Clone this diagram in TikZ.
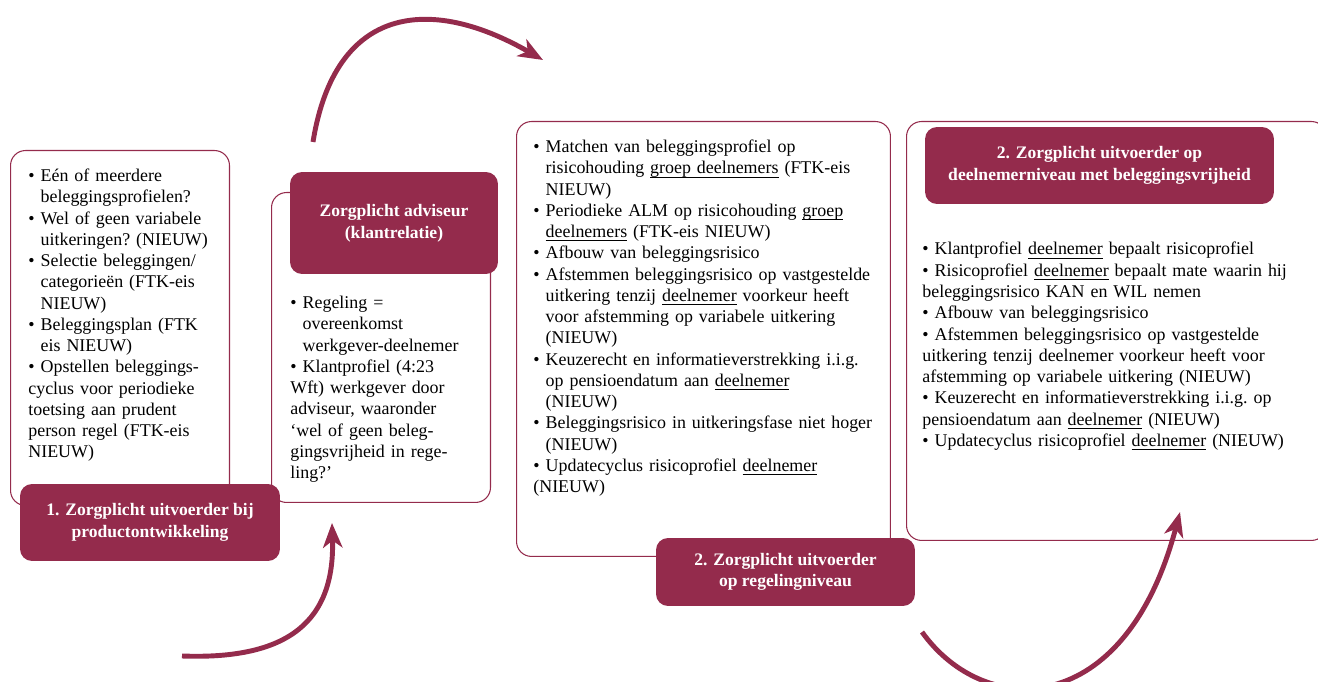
\documentclass[tikz,border=0pt]{standalone}
\usepackage{fontspec}
\setmainfont{Liberation Serif}
\usetikzlibrary{arrows.meta}
\definecolor{bordeaux}{RGB}{148,43,76}
\newsavebox{\ondbox}
\newcommand{\bul}{\par\noindent\hangindent=7pt\hangafter=1\makebox[7pt][l]{\textbullet}}
\newcommand{\ond}[1]{\sbox{\ondbox}{#1}\rlap{\rule[-2pt]{\wd\ondbox}{0.5pt}}\usebox{\ondbox}}
\tikzset{
  kader/.style={draw=bordeaux, line width=0.6pt, rounded corners=0.3cm, anchor=north west, inner sep=0pt},
  titel/.style={fill=bordeaux, text=white, rounded corners=0.24cm, align=center, inner sep=0pt,
                font=\bfseries\fontsize{10}{12.3}\selectfont},
  lijst/.style={anchor=north west, inner sep=0pt, font=\fontsize{10.2}{12.1}\selectfont\frenchspacing},
  pijl/.style={draw=bordeaux, line width=2.8pt, -{Stealth[length=14pt,width=11pt,inset=4pt]}}
}
\begin{document}
\begin{tikzpicture}[x=0.02cm,y=-0.02cm]
    \useasboundingbox (0,0) rectangle (1318,682);

    % kaders
    \node[kader, minimum width=4.38cm, minimum height=7.1cm] (kaderA) at (10,150) {};
    \node[kader, minimum width=4.38cm, minimum height=6.2cm] (kaderB) at (271,192) {};
    \node[kader, minimum width=7.48cm, minimum height=8.7cm] (kaderC) at (516,121) {};
    \node[kader, minimum width=8.4cm, minimum height=8.38cm] (kaderD) at (906,121) {};

    % titels
    \node[titel, minimum width=5.2cm, minimum height=1.54cm] (titelA) at (150,522.5)
        {1. Zorgplicht uitvoerder bij\\productontwikkeling};
    \node[titel, minimum width=4.16cm, minimum height=2.04cm] (titelB) at (394,223)
        {Zorgplicht adviseur\\(klantrelatie)};
    \node[titel, minimum width=5.18cm, minimum height=1.36cm] (titelC) at (785.5,572)
        {2. Zorgplicht uitvoerder\\op regelingniveau};
    \node[titel, minimum width=6.98cm, minimum height=1.54cm] (titelD) at (1099.5,165.5)
        {2. Zorgplicht uitvoerder op\\deelnemerniveau met beleggingsvrijheid};

    % teksten
    \node[lijst, text width=4.6cm] (tekstA) at (28,160) {%
      \bul Eén of meerdere\newline beleggingsprofielen?
      \bul Wel of geen variabele\newline uitkeringen? (NIEUW)
      \bul Selectie beleggingen/\newline categorieën (FTK-eis\newline NIEUW)
      \bul Beleggingsplan (FTK\newline eis NIEUW)
      \bul Opstellen beleggings-\newline cyclus voor periodieke\newline toetsing aan prudent\newline person regel (FTK-eis\newline NIEUW)};

    \node[lijst, text width=4.6cm] (tekstB) at (290,287) {%
      \bul Regeling =\newline overeenkomst\newline werkgever-deelnemer
      \bul Klantprofiel (4:23\newline Wft) werkgever door\newline adviseur, waaronder\newline ‘wel of geen beleg-\newline gingsvrijheid in rege-\newline ling?’};

    \node[lijst, text width=8cm] (tekstC) at (533,131) {%
      \bul Matchen van beleggingsprofiel op\newline risicohouding \ond{groep deelnemers} (FTK-eis\newline NIEUW)
      \bul Periodieke ALM op risicohouding \ond{groep}\newline \ond{deelnemers} (FTK-eis NIEUW)
      \bul Afbouw van beleggingsrisico
      \bul Afstemmen beleggingsrisico op vastgestelde\newline uitkering tenzij \ond{deelnemer} voorkeur heeft\newline voor afstemming op variabele uitkering\newline (NIEUW)
      \bul Keuzerecht en informatieverstrekking i.i.g.\newline op pensioendatum aan \ond{deelnemer}\newline (NIEUW)
      \bul Beleggingsrisico in uitkeringsfase niet hoger\newline (NIEUW)
      \bul Updatecyclus risicoprofiel \ond{deelnemer}\newline (NIEUW)};

    \node[lijst, text width=8.5cm] (tekstD) at (922,242) {%
      \textbullet\ Klantprofiel \ond{deelnemer} bepaalt risicoprofiel\newline
      \textbullet\ Risicoprofiel \ond{deelnemer} bepaalt mate waarin hij\newline
      beleggingsrisico KAN en WIL nemen\newline
      \textbullet\ Afbouw van beleggingsrisico\newline
      \textbullet\ Afstemmen beleggingsrisico op vastgestelde\newline
      uitkering tenzij deelnemer voorkeur heeft voor\newline
      afstemming op variabele uitkering (NIEUW)\newline
      \textbullet\ Keuzerecht en informatieverstrekking i.i.g. op\newline
      pensioendatum aan \ond{deelnemer} (NIEUW)\newline
      \textbullet\ Updatecyclus risicoprofiel \ond{deelnemer} (NIEUW)};

    % pijlen
    \coordinate (pijl1a) at (313,142);
    \coordinate (pijl1b) at (543,60);
    \coordinate (pijl2a) at (182,656);
    \coordinate (pijl2b) at (332,523);
    \coordinate (pijl3a) at (922,632);
    \coordinate (pijl3b) at (1180,512);

    \draw[pijl] (pijl1a) .. controls (335,5) and (430,-5) .. (pijl1b);
    \draw[pijl] (pijl2a) .. controls (290,660) and (335,620) .. (pijl2b);
    \draw[pijl] (pijl3a) .. controls (985,720) and (1125,720) .. (pijl3b);
\end{tikzpicture}
\end{document}
